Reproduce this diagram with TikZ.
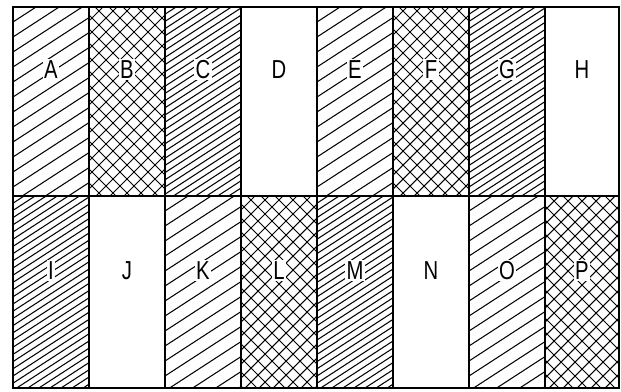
\documentclass[tikz,border=0pt]{standalone}
\usepackage{fontspec}
\setmainfont{Liberation Sans}[FakeStretch=0.78]
\tikzset{
  hatchline/.style={line width=1.05pt, line cap=butt},
  gridline/.style={line width=1.8pt},
  lab/.style={font=\fontsize{26}{26}\selectfont, fill=white, inner sep=1.5pt, anchor=center}
}
\newcommand\hatchcell[6]{%
  \begin{scope}
    \clip (#1,#2) rectangle (#3,#4);
    \pgfmathsetmacro\clow{min(#2+#6*#1,#2+#6*#3)-#5}
    \pgfmathsetmacro\chigh{max(#4+#6*#1,#4+#6*#3)+#5}
    \pgfmathsetmacro\cnext{\clow+#5}
    \foreach \c in {\clow,\cnext,...,\chigh}
      \draw[hatchline] (#1,{\c-#6*#1}) -- (#3,{\c-#6*#3});
  \end{scope}}
% sparse, dense, cross
\newcommand\sparsecell[4]{\hatchcell{#1}{#2}{#3}{#4}{15}{0.65}}
\newcommand\densecell[4]{\hatchcell{#1}{#2}{#3}{#4}{7.2}{0.65}}
\newcommand\crosscell[4]{\hatchcell{#1}{#2}{#3}{#4}{14}{1}\hatchcell{#1}{#2}{#3}{#4}{14}{-1}}
\begin{document}
\begin{tikzpicture}[x=1pt,y=-1pt]
\useasboundingbox (0,0) rectangle (621,391);
% column edges
\def\xa{13}\def\xb{89}\def\xc{165}\def\xd{241}\def\xe{317}
\def\xf{393}\def\xg{469}\def\xh{545}\def\xi{619}
\def\ya{7}\def\yb{196}\def\yc{388}
% row 1
\sparsecell{\xa}{\ya}{\xb}{\yb}
\crosscell{\xb}{\ya}{\xc}{\yb}
\densecell{\xc}{\ya}{\xd}{\yb}
\sparsecell{\xe}{\ya}{\xf}{\yb}
\crosscell{\xf}{\ya}{\xg}{\yb}
\densecell{\xg}{\ya}{\xh}{\yb}
% row 2
\densecell{\xa}{\yb}{\xb}{\yc}
\sparsecell{\xc}{\yb}{\xd}{\yc}
\crosscell{\xd}{\yb}{\xe}{\yc}
\densecell{\xe}{\yb}{\xf}{\yc}
\sparsecell{\xg}{\yb}{\xh}{\yc}
\crosscell{\xh}{\yb}{\xi}{\yc}
% grid
\draw[gridline] (\xa,\ya) rectangle (\xi,\yc);
\draw[gridline] (\xa,\yb) -- (\xi,\yb);
\foreach \x in {\xb,\xc,\xd,\xe,\xf,\xg,\xh}
  \draw[gridline] (\x,\ya) -- (\x,\yc);
% labels
\node[lab] (A) at (51,69.5) {A};
\node[lab] (B) at (127,69.5) {B};
\node[lab] (C) at (203,69.5) {C};
\node[lab] (D) at (279,69.5) {D};
\node[lab] (E) at (355,69.5) {E};
\node[lab] (F) at (431,69.5) {F};
\node[lab] (G) at (507,69.5) {G};
\node[lab] (H) at (582,69.5) {H};
\node[lab] (I) at (51,270.5) {I};
\node[lab] (J) at (127,270.5) {J};
\node[lab] (K) at (203,270.5) {K};
\node[lab] (L) at (279,270.5) {L};
\node[lab] (M) at (355,270.5) {M};
\node[lab] (N) at (431,270.5) {N};
\node[lab] (O) at (507,270.5) {O};
\node[lab] (P) at (582,270.5) {P};
\end{tikzpicture}
\end{document}
